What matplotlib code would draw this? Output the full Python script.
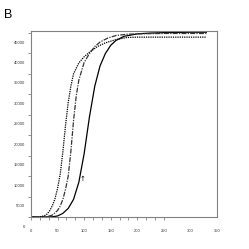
import matplotlib
matplotlib.use('Agg')
from matplotlib import pyplot as plt
from matplotlib.ticker import FixedLocator, NullFormatter
from matplotlib.transforms import ScaledTranslation

# curve readings (x, signal)
x_solid = [0, 20, 40, 50, 60, 70, 80, 90, 100, 110, 120, 130, 140, 150, 160, 175, 200, 225, 250, 300, 330]
y_solid = [0, 0, 50, 250, 900, 2100, 4300, 8500, 15500, 24500, 32000, 37000, 40000, 42000, 43200,
           44200, 44800, 45000, 45100, 45200, 45200]

x_dash = [0, 20, 30, 40, 50, 55, 60, 65, 70, 75, 80, 85, 90, 100, 110, 120, 130, 145, 160, 180, 200, 250, 330]
y_dash = [0, 0, 100, 450, 1600, 2700, 4300, 6800, 10000, 16000, 23500, 29500, 33500, 37800, 40000,
          41700, 42800, 43800, 44400, 44700, 44800, 44900, 44900]

x_dot = [0, 15, 25, 30, 35, 40, 45, 50, 55, 60, 65, 70, 75, 80, 90, 100, 110, 125, 140, 160, 180, 200, 250, 330]
y_dot = [0, 0, 300, 700, 1500, 2700, 4400, 7000, 10500, 16000, 22500, 28000, 32000, 35000, 37700,
         39200, 40300, 41700, 42600, 43400, 43900, 44000, 44000, 44000]

xticks = [0, 50, 100, 150, 200, 250, 300, 350]
yticks = [0, 5000, 10000, 15000, 20000, 25000, 30000, 35000, 40000, 45000]

plt.rcParams['font.family'] = ['Liberation Sans', 'DejaVu Sans']

fig = plt.figure(figsize=(2.49, 2.49), dpi=100)
ax = fig.add_axes([0.1245, 0.1285, 0.747, 0.747])

ax.plot(x_solid, y_solid, color='black', lw=0.9, ls='-')
ax.plot(x_dash, y_dash, color='#333333', lw=0.9, ls=(0, (4, 1, 1, 1)))
ax.plot(x_dot, y_dot, color='black', lw=0.9, ls=(0, (1, 0.8)))

ax.text(96, 9200, '\u2191', fontsize=5, ha='center', va='center', family='DejaVu Sans')

ax.set_xlim(0, 350)
ax.set_ylim(0, 45500)

for s in ax.spines.values():
    s.set_color('#808080')
    s.set_linewidth(0.8)

ax.set_xticks(xticks)
ax.set_xticklabels([str(v) for v in xticks])
ax.set_yticks(yticks)
ax.set_yticklabels([str(v) for v in yticks])
ax.xaxis.remove_overlapping_locs = False
ax.xaxis.set_minor_locator(FixedLocator([i * 50 / 3 for i in range(16)]))
ax.xaxis.set_minor_formatter(NullFormatter())
ax.tick_params(axis='x', which='major', length=0, pad=8.5, labelsize=3, labelcolor='#333333')
ax.tick_params(axis='x', which='minor', length=2, width=0.6, color='#808080', direction='out')
ax.tick_params(axis='y', which='major', length=2, width=0.6, color='#808080', pad=2.5,
               labelsize=3, labelcolor='#333333')

off = ScaledTranslation(0, -6.5 / 72, fig.dpi_scale_trans)
for lab in ax.get_yticklabels():
    lab.set_transform(lab.get_transform() + off)

fig.text(0.015, 0.965, 'B', fontsize=9, ha='left', va='top')

fig.savefig('out.png', dpi=100)
